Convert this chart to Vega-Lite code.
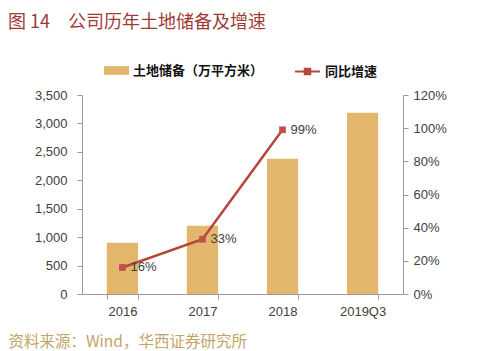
{
  "$schema": "https://vega.github.io/schema/vega-lite/v6.json",
  "autosize": {"type": "none"},
  "width": 321,
  "height": 199,
  "padding": {"left": 82, "top": 95, "right": 77, "bottom": 57},
  "background": "white",
  "title": {
    "text": "图 14　公司历年土地储备及增速",
    "anchor": "start",
    "frame": "group",
    "dx": -74,
    "offset": 26,
    "font": "Noto Sans CJK SC",
    "fontSize": 18,
    "fontWeight": "normal",
    "color": "#9E3B36"
  },
  "data": {
    "values": [
      {"year": "2016", "area": 900, "growth": 0.16},
      {"year": "2017", "area": 1200, "growth": 0.33},
      {"year": "2018", "area": 2380, "growth": 0.99},
      {"year": "2019Q3", "area": 3190, "growth": null}
    ]
  },
  "config": {
    "view": {"stroke": null},
    "axis": {
      "labelFont": "Liberation Sans",
      "labelFontSize": 13,
      "labelColor": "#404040",
      "domainColor": "#9a9a9a",
      "tickColor": "#9a9a9a",
      "grid": false
    },
    "legend": {
      "labelFont": "Noto Sans CJK SC",
      "labelFontSize": 13,
      "labelFontWeight": "bold",
      "labelColor": "#111111"
    }
  },
  "layer": [
    {
      "mark": {"type": "bar", "color": "#E2B66C"},
      "encoding": {
        "x": {
          "field": "year",
          "type": "nominal",
          "sort": null,
          "scale": {"paddingInner": 0.61, "paddingOuter": 0.31},
          "axis": {
            "labelAngle": 0,
            "labelPadding": 6,
            "tickBand": "extent",
            "tickSize": 5,
            "title": "资料来源：Wind，华西证券研究所",
            "titleFont": "Noto Sans CJK SC",
            "titleFontSize": 15.5,
            "titleFontWeight": "normal",
            "titleColor": "#C4A468",
            "titleAnchor": "start",
            "titleAlign": "left",
            "titleBaseline": "middle",
            "titleX": -74,
            "titleY": 47
          }
        },
        "y": {
          "field": "area",
          "type": "quantitative",
          "scale": {"domain": [0, 3500]},
          "axis": {
            "title": null,
            "values": [0, 500, 1000, 1500, 2000, 2500, 3000, 3500],
            "format": ",.0f",
            "tickSize": 5,
            "labelPadding": 10
          }
        },
        "fill": {
          "datum": "土地储备（万平方米）",
          "type": "nominal",
          "scale": {"range": ["#E2B66C"]},
          "legend": {
            "title": null,
            "orient": "none",
            "legendX": 22,
            "legendY": -37,
            "symbolType": "M-1,-0.35H1V0.35H-1Z",
            "symbolSize": 625,
            "symbolStrokeWidth": 0
          }
        }
      }
    },
    {
      "transform": [{"filter": "isValid(datum.growth)"}],
      "encoding": {
        "x": {"field": "year", "type": "nominal", "sort": null},
        "y": {
          "field": "growth",
          "type": "quantitative",
          "scale": {"domain": [0, 1.2]},
          "axis": {
            "orient": "right",
            "title": null,
            "values": [0, 0.2, 0.4, 0.6, 0.8, 1.0, 1.2],
            "format": ".0%",
            "tickSize": 5,
            "labelPadding": 5
          }
        }
      },
      "layer": [
        {
          "mark": {"type": "line", "strokeWidth": 2.5, "color": "#B5473A"},
          "encoding": {
            "stroke": {
              "datum": "同比增速",
              "type": "nominal",
              "scale": {"range": ["#B5473A"]},
              "legend": {
                "title": null,
                "orient": "none",
                "legendX": 212,
                "legendY": -37,
                "symbolType": "M-1,0H1M-0.22,-0.22H0.22V0.22H-0.22Z",
                "symbolSize": 625,
                "symbolFillColor": "#C0504D",
                "symbolStrokeWidth": 2
              }
            }
          }
        },
        {
          "mark": {"type": "point", "shape": "square", "filled": true, "size": 45, "color": "#C0504D", "opacity": 1},
          "encoding": {}
        },
        {
          "mark": {"type": "text", "align": "left", "dx": 8, "fontSize": 13, "font": "Liberation Sans", "color": "#404040"},
          "encoding": {"text": {"field": "growth", "type": "quantitative", "format": ".0%"}}
        }
      ]
    }
  ],
  "resolve": {"scale": {"y": "independent", "fill": "independent", "stroke": "independent"}}
}
